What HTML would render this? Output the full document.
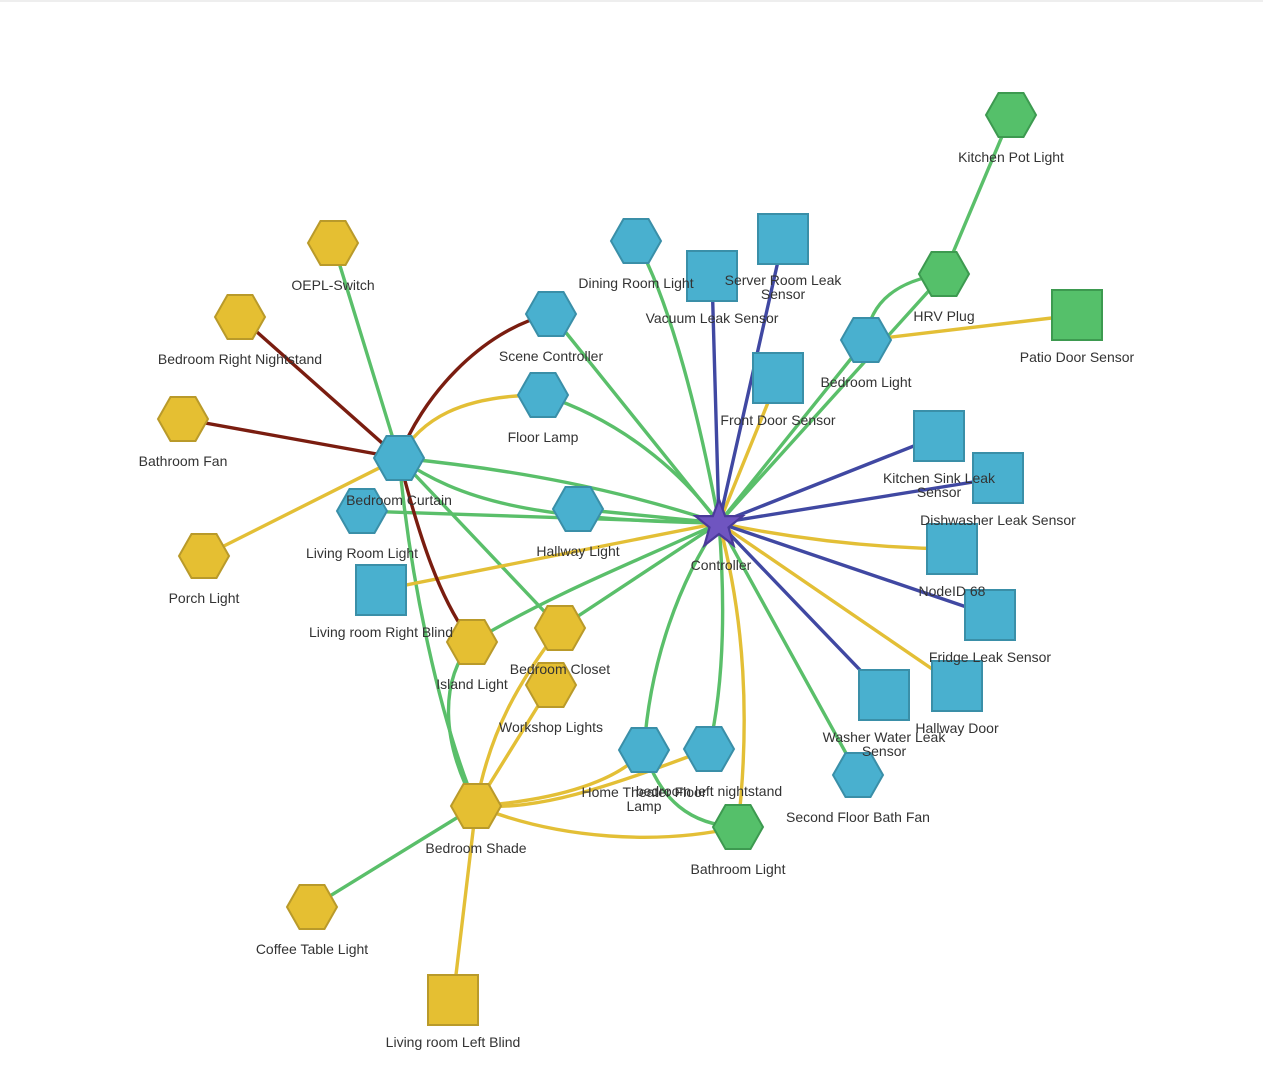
<!DOCTYPE html>
<html><head><meta charset="utf-8"><style>
html,body{margin:0;padding:0;background:#fff;}
svg{display:block;}
text{font-family:"Liberation Sans",Arial,sans-serif;font-size:14px;fill:#333;text-anchor:middle;}
</style></head><body>
<svg width="1263" height="1084" viewBox="0 0 1263 1084" xmlns="http://www.w3.org/2000/svg">
<defs>
<polygon id="h" points="-25,0 -12.5,-22 12.5,-22 25,0 12.5,22 -12.5,22"/>
</defs>
<rect x="0" y="0" width="1263" height="2" fill="#eee"/>
<g fill="none" stroke-width="3.4" stroke-linecap="round">
<g stroke="#5abf6a">
<path d="M1011,115 L944,274"/>
<path d="M944,274 C900,280 870,300 866,340"/>
<path d="M944,274 L719,523"/>
<path d="M866,340 L719,523"/>
<path d="M636,241 C670,300 700,420 719,523"/>
<path d="M551,314 L719,523"/>
<path d="M543,395 C620,420 680,470 719,523"/>
<path d="M399,458 C520,470 620,490 719,523"/>
<path d="M399,458 C460,500 530,520 719,523"/>
<path d="M362,511 L719,523"/>
<path d="M578,509 L719,523"/>
<path d="M333,243 L399,458"/>
<path d="M399,458 L560,628"/>
<path d="M399,458 C410,580 440,720 476,806"/>
<path d="M472,642 C440,680 440,740 476,806"/>
<path d="M472,642 C560,590 640,560 719,523"/>
<path d="M560,628 L719,523"/>
<path d="M644,750 C650,660 680,580 719,523"/>
<path d="M709,749 C725,680 725,600 719,523"/>
<path d="M719,523 L858,775"/>
<path d="M644,750 C660,800 690,825 738,827"/>
<path d="M476,806 L312,907"/>
</g>
<g stroke="#e3bf36">
<path d="M1077,315 L866,340"/>
<path d="M778,378 L719,523"/>
<path d="M719,523 C800,540 880,548 952,549"/>
<path d="M719,523 L957,686"/>
<path d="M719,523 C745,620 750,720 738,827"/>
<path d="M381,590 L719,523"/>
<path d="M543,395 C460,395 420,420 399,458"/>
<path d="M204,556 L399,458"/>
<path d="M476,806 C560,800 620,780 644,750"/>
<path d="M476,806 C540,810 600,790 709,749"/>
<path d="M476,806 C560,840 660,845 738,827"/>
<path d="M476,806 L453,1000"/>
<path d="M476,806 L551,685"/>
<path d="M476,806 C490,730 520,680 560,628"/>
</g>
<g stroke="#7a1d10">
<path d="M551,314 C480,330 420,400 399,458"/>
<path d="M240,317 L399,458"/>
<path d="M183,419 L399,458"/>
<path d="M399,458 C420,540 440,600 472,642"/>
</g>
<g stroke="#4048a2">
<path d="M783,239 L719,523"/>
<path d="M712,276 L719,523"/>
<path d="M939,436 L719,523"/>
<path d="M998,478 L719,523"/>
<path d="M990,615 L719,523"/>
<path d="M884,695 L719,523"/>
</g>
</g>
<g stroke-width="2">
<g fill="#55c06a" stroke="#3d9a50">
<use href="#h" x="1011" y="115"/>
<use href="#h" x="944" y="274"/>
<use href="#h" x="738" y="827"/>
<rect x="1052" y="290" width="50" height="50"/>
</g>
<g fill="#49b0cf" stroke="#3a8fa8">
<use href="#h" x="866" y="340"/>
<use href="#h" x="636" y="241"/>
<use href="#h" x="551" y="314"/>
<use href="#h" x="543" y="395"/>
<use href="#h" x="399" y="458"/>
<use href="#h" x="362" y="511"/>
<use href="#h" x="578" y="509"/>
<use href="#h" x="644" y="750"/>
<use href="#h" x="709" y="749"/>
<use href="#h" x="858" y="775"/>
<rect x="758" y="214" width="50" height="50"/>
<rect x="687" y="251" width="50" height="50"/>
<rect x="753" y="353" width="50" height="50"/>
<rect x="914" y="411" width="50" height="50"/>
<rect x="973" y="453" width="50" height="50"/>
<rect x="927" y="524" width="50" height="50"/>
<rect x="965" y="590" width="50" height="50"/>
<rect x="932" y="661" width="50" height="50"/>
<rect x="859" y="670" width="50" height="50"/>
<rect x="356" y="565" width="50" height="50"/>
</g>
<g fill="#e5bf32" stroke="#b99a2a">
<use href="#h" x="333" y="243"/>
<use href="#h" x="240" y="317"/>
<use href="#h" x="183" y="419"/>
<use href="#h" x="204" y="556"/>
<use href="#h" x="472" y="642"/>
<use href="#h" x="560" y="628"/>
<use href="#h" x="551" y="685"/>
<use href="#h" x="476" y="806"/>
<use href="#h" x="312" y="907"/>
<rect x="428" y="975" width="50" height="50"/>
</g>
<polygon fill="#6f55c0" stroke="#4a3a9a" transform="translate(719,524) scale(1.12)" points="0,-22 5.5,-7 21,-7 8.5,3 13,19 0,9 -13,19 -8.5,3 -21,-7 -5.5,-7"/>
</g>
<g>
<text x="1011" y="162">Kitchen Pot Light</text>
<text x="944" y="321">HRV Plug</text>
<text x="1077" y="362">Patio Door Sensor</text>
<text x="866" y="387">Bedroom Light</text>
<text x="636" y="288">Dining Room Light</text>
<text x="783" y="285">Server Room Leak</text>
<text x="783" y="299">Sensor</text>
<text x="712" y="323">Vacuum Leak Sensor</text>
<text x="778" y="425">Front Door Sensor</text>
<text x="939" y="483">Kitchen Sink Leak</text>
<text x="939" y="497">Sensor</text>
<text x="998" y="525">Dishwasher Leak Sensor</text>
<text x="952" y="596">NodeID 68</text>
<text x="990" y="662">Fridge Leak Sensor</text>
<text x="957" y="733">Hallway Door</text>
<text x="884" y="742">Washer Water Leak</text>
<text x="884" y="756">Sensor</text>
<text x="858" y="822">Second Floor Bath Fan</text>
<text x="738" y="874">Bathroom Light</text>
<text x="709" y="796">bedroom left nightstand</text>
<text x="644" y="797">Home Theater Floor</text>
<text x="644" y="811">Lamp</text>
<text x="476" y="853">Bedroom Shade</text>
<text x="312" y="954">Coffee Table Light</text>
<text x="453" y="1047">Living room Left Blind</text>
<text x="551" y="732">Workshop Lights</text>
<text x="560" y="674">Bedroom Closet</text>
<text x="472" y="689">Island Light</text>
<text x="381" y="637">Living room Right Blind</text>
<text x="578" y="556">Hallway Light</text>
<text x="362" y="558">Living Room Light</text>
<text x="399" y="505">Bedroom Curtain</text>
<text x="543" y="442">Floor Lamp</text>
<text x="551" y="361">Scene Controller</text>
<text x="333" y="290">OEPL-Switch</text>
<text x="240" y="364">Bedroom Right Nightstand</text>
<text x="183" y="466">Bathroom Fan</text>
<text x="204" y="603">Porch Light</text>
<text x="721" y="570">Controller</text>
</g>
</svg>
</body></html>
